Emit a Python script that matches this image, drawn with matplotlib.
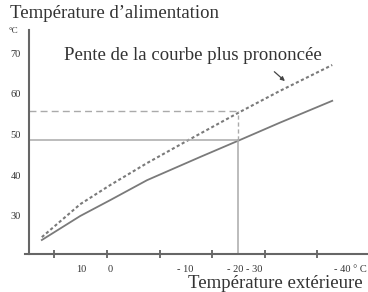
import matplotlib
matplotlib.use("Agg")
import matplotlib.pyplot as plt

plt.rcParams['font.family'] = ['Liberation Serif', 'DejaVu Serif']

# outdoor temperature (°C) and supply temperature (°C)
t_out = [12.4, 5.1, -0.6, -7.6, -17.7, -25.3, -32.8, -42.8]
supply = [24.1, 30.0, 33.9, 38.8, 44.5, 48.7, 52.9, 58.3]

t_out_steep = [12.4, 5.1, -0.6, -7.6, -15.8, -25.3, -32.8, -42.8]
supply_steep = [24.8, 32.9, 37.6, 43.0, 48.9, 55.6, 60.7, 67.1]

ref_t = -24.8
ref_normal = 48.7
ref_steep = 55.8

x_ticks = [10, 0, -10, -20, -30, -40]
x_label_pos = [4.9, -0.6, -14.8, -26.2, -46.2]
x_labels = ['10', '0', '- 10', '- 20 - 30', '- 40 ° C']
y_ticks = [30, 40, 50, 60, 70]

grey = '#7a7a7a'
txt = '#333333'

fig = plt.figure(figsize=(3.68, 2.92), dpi=100)
ax = fig.add_axes([25/368, 1-254/292, 343/368, 224/292])

ax.plot(t_out, supply, color=grey, lw=1.3)
ax.plot(t_out_steep, supply_steep, color=grey, lw=1.5, linestyle=(0, (1.5, 1.2)))

x0 = 14.83
ax.plot([x0, ref_t], [ref_normal, ref_normal], color='#aaaaaa', lw=1.1)
ax.plot([x0, ref_t], [ref_steep, ref_steep], color='#aaaaaa', lw=1.0, linestyle=(0, (5, 3)))
ax.plot([ref_t, ref_t], [20.66, ref_normal], color='#aaaaaa', lw=1.1)
ax.plot([ref_t, ref_t], [ref_normal, ref_steep], color='#aaaaaa', lw=1.0, linestyle=(0, (3, 2)))

ax.set_xlim(15.6, -49.6)
ax.set_ylim(20.66, 75.7)

for s in ['top', 'right']:
    ax.spines[s].set_visible(False)
ax.spines['left'].set_position(('data', x0))
for s in ['left', 'bottom']:
    ax.spines[s].set_color('#666666')
    ax.spines[s].set_linewidth(1.5)

ax.set_xticks(x_ticks)
ax.set_xticklabels([])
ax.tick_params(axis='x', direction='inout', length=6, width=1.2, color='#555555')
ax.set_yticks(y_ticks)
ax.set_yticklabels([str(v) for v in y_ticks], fontsize=7.5, color=txt)
ax.tick_params(axis='y', length=0, pad=6)

for pos, lab in zip(x_label_pos, x_labels):
    ax.text(pos, -0.067, lab, transform=ax.get_xaxis_transform(),
            ha='center', va='center', fontsize=7.5, color=txt)

ax.annotate('', xy=(-34.2, 62.7), xytext=(-31.4, 65.9),
            arrowprops=dict(arrowstyle='-|>', color='#444444', lw=0.9,
                            mutation_scale=6))

fig.text(193/368, 1-56/292, 'Pente de la courbe plus prononcée',
         ha='center', va='center', fontsize=13.5, color=txt)
fig.text(10/368, 1-13/292, 'Température d\u2019alimentation',
         ha='left', va='center', fontsize=13.5, color=txt)
fig.text(13/368, 1-31/292, '°C', ha='center', va='center', fontsize=6.5, color=txt)
fig.text(363/368, 1-284/292, 'Température extérieure',
         ha='right', va='center', fontsize=13.5, color=txt)

fig.savefig('out.png', dpi=100)
